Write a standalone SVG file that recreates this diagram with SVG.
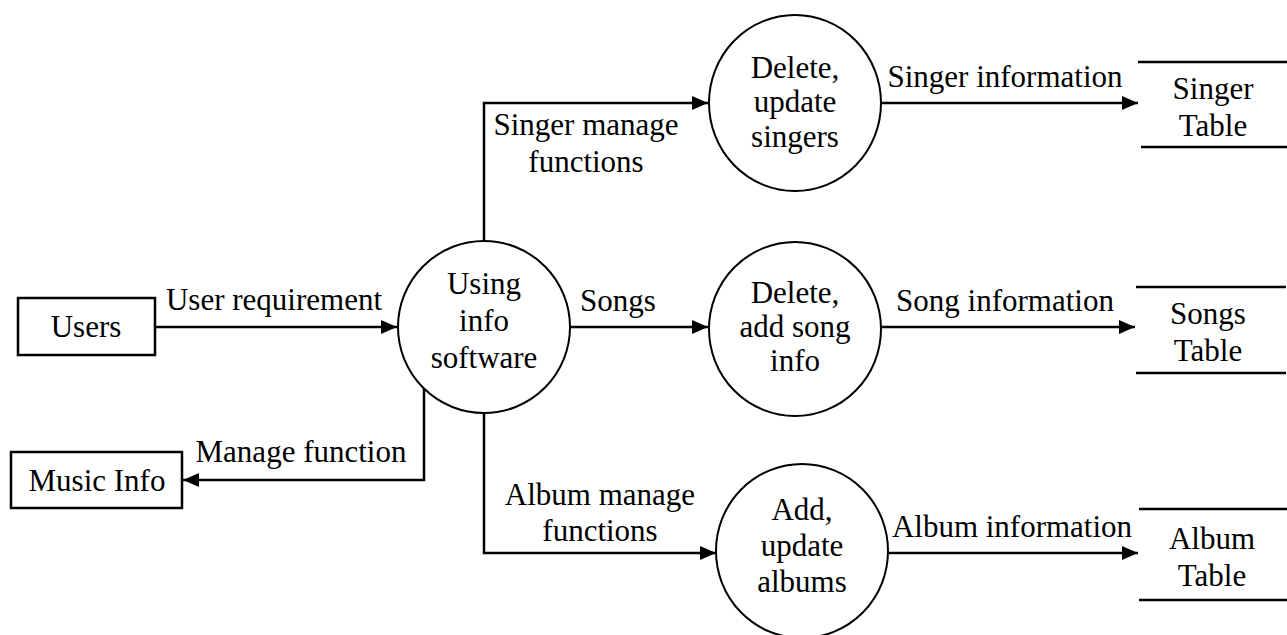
<svg xmlns="http://www.w3.org/2000/svg" width="1287" height="635" viewBox="0 0 1287 635">
<style>
text{font-family:"Liberation Serif","Times New Roman",serif;font-size:31px;fill:#000;text-anchor:middle}
.box{fill:#fff;stroke:#000;stroke-width:2.5}
.proc{fill:#fff;stroke:#000;stroke-width:2}
.store{stroke:#000;stroke-width:2.5;fill:none}
.conn{fill:none;stroke:#000;stroke-width:2.5}
</style>
<defs>
<marker id="arr" markerUnits="userSpaceOnUse" markerWidth="17" markerHeight="14" refX="16" refY="7" orient="auto">
<path d="M0,0 L16,7 L0,14 z" fill="#000"/>
</marker>
</defs>
<rect width="1287" height="635" fill="#fff"/>
<g id="connectors">
<path class="conn" d="M155,327 H397" marker-end="url(#arr)"/>
<path class="conn" d="M424,389 V480 H183" marker-end="url(#arr)"/>
<path class="conn" d="M484,241 V103 H708" marker-end="url(#arr)"/>
<path class="conn" d="M570,327 H708" marker-end="url(#arr)"/>
<path class="conn" d="M484,413 V553 H716" marker-end="url(#arr)"/>
<path class="conn" d="M881,103 H1138" marker-end="url(#arr)"/>
<path class="conn" d="M881,327 H1135" marker-end="url(#arr)"/>
<path class="conn" d="M888,553 H1138" marker-end="url(#arr)"/>
<text x="274" y="310">User requirement</text>
<text x="301" y="462">Manage function</text>
<text x="586" y="135">Singer manage</text>
<text x="586" y="172">functions</text>
<text x="618" y="311">Songs</text>
<text x="600" y="505">Album manage</text>
<text x="600" y="541">functions</text>
<text x="1005" y="87">Singer information</text>
<text x="1005" y="311">Song information</text>
<text x="1012" y="537">Album information</text>
</g>
<g id="users">
<rect class="box" x="18" y="298" width="137" height="57"/>
<text x="86" y="337">Users</text>
</g>
<g id="music-info">
<rect class="box" x="11" y="452" width="171" height="56"/>
<text x="97" y="491">Music Info</text>
</g>
<g id="using-info-software">
<circle class="proc" cx="484" cy="327" r="86"/>
<text x="484" y="294">Using</text>
<text x="484" y="331">info</text>
<text x="484" y="368">software</text>
</g>
<g id="singers-process">
<ellipse class="proc" cx="795" cy="103" rx="86" ry="88"/>
<text x="795" y="78">Delete,</text>
<text x="795" y="112">update</text>
<text x="795" y="147">singers</text>
</g>
<g id="songs-process">
<ellipse class="proc" cx="795" cy="329" rx="86" ry="87"/>
<text x="795" y="303">Delete,</text>
<text x="795" y="337">add song</text>
<text x="795" y="371">info</text>
</g>
<g id="albums-process">
<ellipse class="proc" cx="802" cy="551" rx="86" ry="87"/>
<text x="802" y="520">Add,</text>
<text x="802" y="556">update</text>
<text x="802" y="592">albums</text>
</g>
<g id="singer-table">
<path class="store" d="M1138,62 H1287 M1141,147 H1287"/>
<text x="1213" y="99">Singer</text>
<text x="1213" y="136">Table</text>
</g>
<g id="songs-table">
<path class="store" d="M1136,287 H1286 M1136,373 H1286"/>
<text x="1208" y="324">Songs</text>
<text x="1208" y="361">Table</text>
</g>
<g id="album-table">
<path class="store" d="M1139,509 H1287 M1139,600 H1287"/>
<text x="1212" y="549">Album</text>
<text x="1212" y="586">Table</text>
</g>
</svg>
